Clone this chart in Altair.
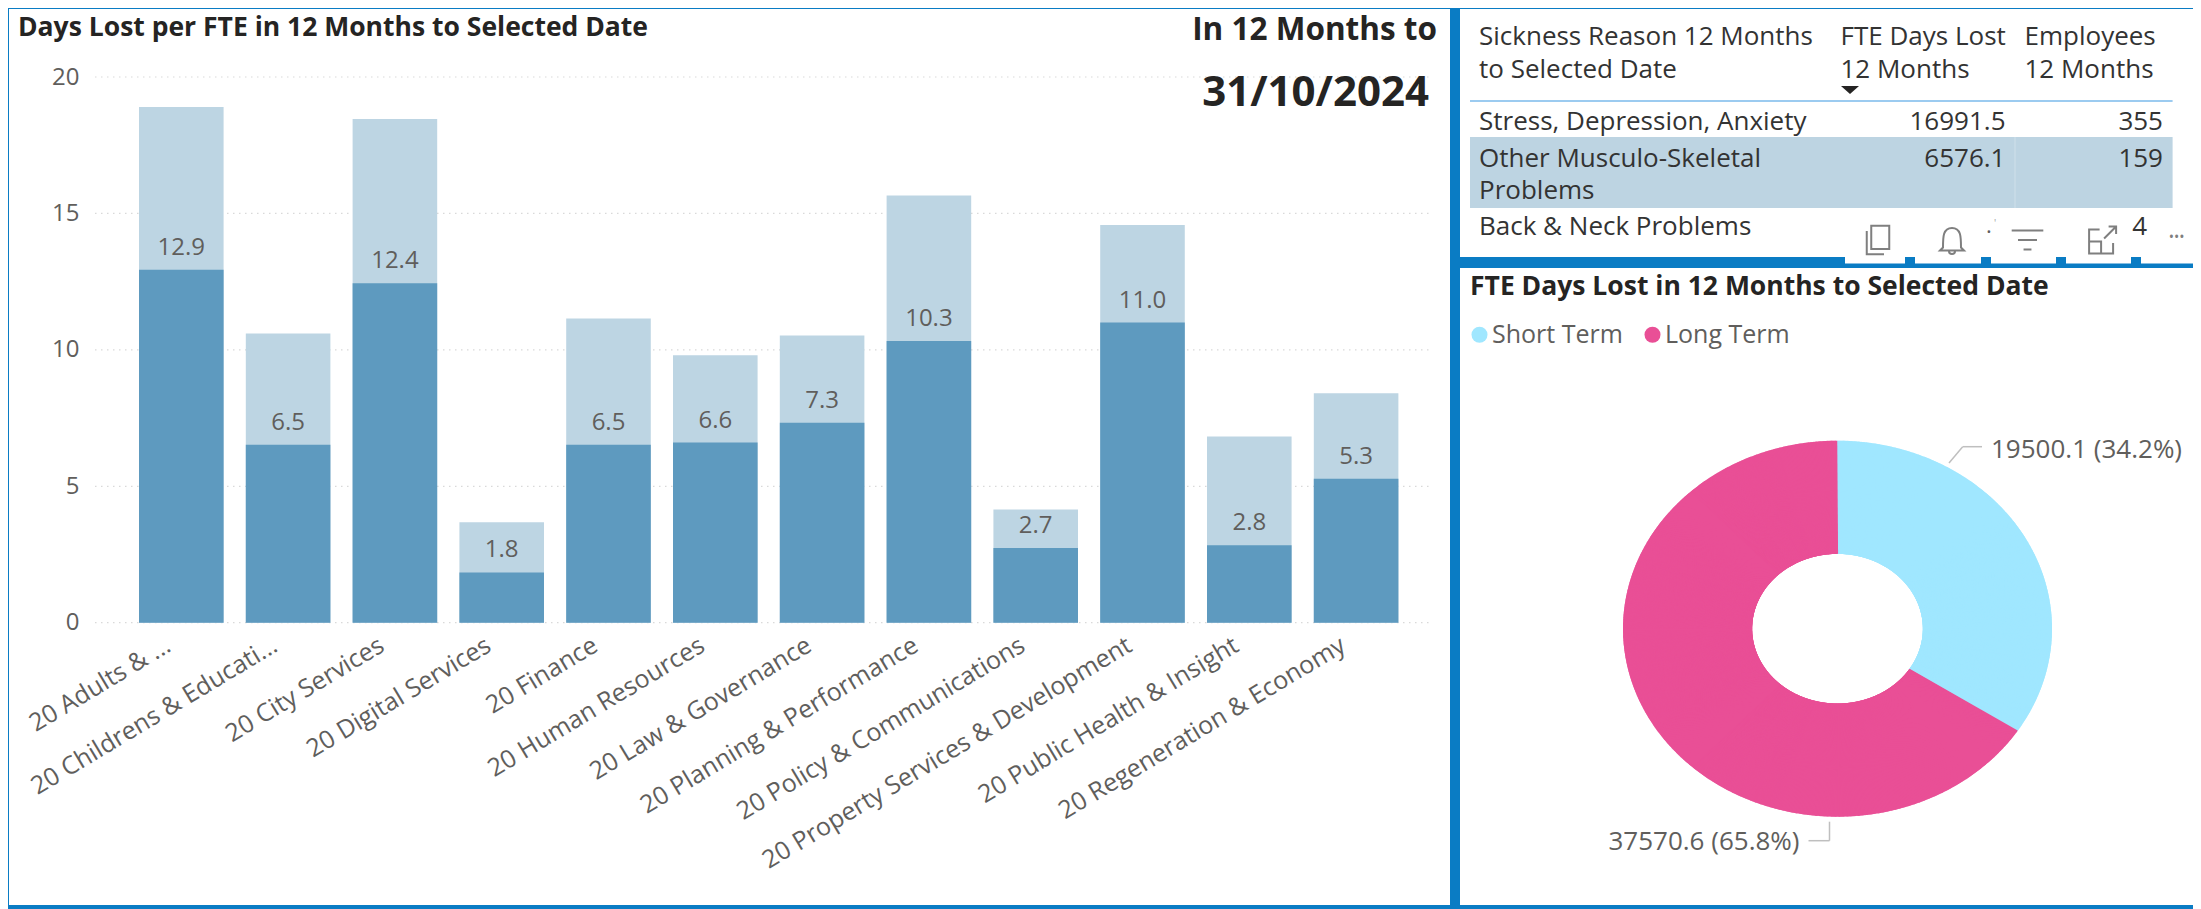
import math
import altair as alt

# ---- data ----
departments = ["20 Adults & ...", "20 Childrens & Educati...", "20 City Services", "20 Digital Services",
               "20 Finance", "20 Human Resources", "20 Law & Governance", "20 Planning & Performance",
               "20 Policy & Communications", "20 Property Services & Development",
               "20 Public Health & Insight", "20 Regeneration & Economy"]
total_days = [18.9, 10.6, 18.46, 3.68, 11.15, 9.8, 10.53, 15.66, 4.15, 14.58, 6.82, 8.41]
dark_days = [12.94, 6.52, 12.44, 1.84, 6.52, 6.6, 7.33, 10.32, 2.74, 11.0, 2.84, 5.28]
y_ticks = [0, 5, 10, 15, 20]

pie_names = ["Short Term", "Long Term"]
pie_values = [19500.1, 37570.6]
pie_colors = ["#A0E7FF", "#E94F96"]

table_header = [["Sickness Reason 12 Months", "to Selected Date"], ["FTE Days Lost", "12 Months"], ["Employees", "12 Months"]]
table_reasons = [["Stress, Depression, Anxiety"], ["Other Musculo-Skeletal", "Problems"], ["Back & Neck Problems"]]
table_days = ["16991.5", "6576.1", ""]
table_people = ["355", "159", "4"]

FONT = "Open Sans"
BLUE = "#0A7CC4"
W, H = 2185, 901
OFF = 8  # page margin
TABLE_SIZE = 26


def one(**row):
    return alt.Data(values=[row or {"k": 0}])


def px(v):
    return alt.value(v - OFF)


def txt(s, x, y, size, color="#333333", align="left", bold=False):
    return alt.Chart(one(t=s)).mark_text(
        font=FONT, fontSize=size, color=color, align=align, baseline="middle",
        fontWeight="bold" if bold else "normal"
    ).encode(x=px(x), y=px(y), text="t:N")


def box(x, x2, y, y2, color=BLUE):
    return alt.Chart(one()).mark_rect(color=color, strokeWidth=0).encode(x=px(x), x2=px(x2), y=px(y), y2=px(y2))


def seg(x, x2, y, y2, color="#BFBFBF", width=1.5):
    return alt.Chart(one()).mark_rule(color=color, strokeWidth=width).encode(x=px(x), x2=px(x2), y=px(y), y2=px(y2))


def icon(path, x, y, size, filled=False, color="#7F7F7F"):
    kw = dict(fill=color, stroke=color, strokeWidth=0) if filled else dict(stroke=color, strokeWidth=2, fillOpacity=0)
    return alt.Chart(one()).mark_point(shape=path, size=size, filled=filled, opacity=1, **kw).encode(x=px(x), y=px(y))


layers = []

# ---- frames ----
layers += [box(8, 9, 8, 909), box(8, 2201, 8, 9), box(8, 2201, 905, 909), box(1450, 1460, 8, 909),
           box(1460, 1845, 257, 268), box(1845, 2201, 263.5, 268)]
for nx in [1905, 1981, 2056, 2131]:
    layers.append(box(nx, nx + 10, 257, 264))

# ---- bars ----
bar_rows = [{"d": d, "total": t, "dark": k} for d, t, k in zip(departments, total_days, dark_days)]
x_scale = alt.Scale(domain=departments, range=[127.9 - OFF, 1409.5 - OFF], paddingInner=0.208, paddingOuter=0.104)
y_scale = alt.Scale(domain=[0, 20], range=[622.7 - OFF, 77 - OFF], nice=False)
x_none = alt.X("d:N", scale=x_scale, axis=None, sort=departments)

grid = alt.Chart(alt.Data(values=[{"v": v} for v in y_ticks])).mark_rule(
    color="#D9D9D9", strokeWidth=1.2, strokeDash=[1.5, 4.5]
).encode(y=alt.Y("v:Q", scale=y_scale, axis=None), x=px(95), x2=px(1433))

light = alt.Chart(alt.Data(values=bar_rows)).mark_bar(color="#BDD5E3").encode(
    x=alt.X("d:N", scale=x_scale, sort=departments, title=None, axis=alt.Axis(
        orient="bottom", offset=-(H - (622.7 - OFF) - 6), labelAngle=329, labelAlign="right", labelBaseline="middle",
        labelFont=FONT, labelFontSize=25, labelColor="#605E5C", labelLimit=700, labelOverlap=False,
        ticks=False, domain=False, labelPadding=14, labelOffset=-13, grid=False)),
    y=alt.Y("total:Q", scale=y_scale, title=None, axis=alt.Axis(
        orient="left", offset=-(79 - OFF), values=y_ticks, labelFont=FONT, labelFontSize=24, labelColor="#605E5C",
        ticks=False, domain=False, grid=False, labelPadding=0)),
)
dark = alt.Chart(alt.Data(values=bar_rows)).mark_bar(color="#5E9ABF").encode(
    x=x_none, y=alt.Y("dark:Q", scale=y_scale, axis=None))
labels = alt.Chart(alt.Data(values=bar_rows)).mark_text(
    font=FONT, fontSize=24, color="#605E5C", baseline="middle", dy=-22
).encode(x=x_none, y=alt.Y("dark:Q", scale=y_scale, axis=None), text=alt.Text("dark:Q", format=".1f"))
layers += [grid, light, dark, labels]

# ---- left titles ----
layers += [
    txt("Days Lost per FTE in 12 Months to Selected Date", 18, 28, 26.5, "#252423", bold=True),
    txt("In 12 Months to", 1437, 31, 31.5, "#252423", "right", True),
    txt("31/10/2024", 1429, 93, 42, "#252423", "right", True),
]

# ---- table ----
layers.append(box(1470, 2172.6, 137, 208, "#BDD4E2"))
layers.append(seg(2015, 2015, 137, 208, "#CFE0EA", 1))
layers.append(seg(1470, 2172.6, 101, 101, "#9CCBF0", 2))
for lines, hx in zip(table_header, [1479, 1840.5, 2024.5]):
    for line, hy in zip(lines, [37, 69.5]):
        layers.append(txt(line, hx, hy, TABLE_SIZE))
layers.append(icon("M-1 -0.45 L1 -0.45 L0 0.45 Z", 1850, 90, 324, True, "#252423"))
row_y = [121.7, 158.5, 227]
for lines, ry in zip(table_reasons, row_y):
    for i, line in enumerate(lines):
        layers.append(txt(line, 1479, ry + i * 32.3, TABLE_SIZE))
for s, ry in zip(table_days, row_y):
    if s:
        layers.append(txt(s, 2005.5, ry, TABLE_SIZE, align="right"))
for s, ry, rx in zip(table_people, row_y, [2163, 2163, 2147]):
    layers.append(txt(s, rx, ry, TABLE_SIZE, align="right"))
layers += [txt(".", 1986, 226, 22, "#605E5C"), txt("'", 1994, 224, 10, "#A0A0A0")]

# ---- toolbar icons over the table ----
layers += [
    icon("M-0.45 -0.95 H0.75 V0.6 H-0.45 Z M-0.75 -0.6 V0.95 H0.4", 1878, 240, 900),
    icon("M-0.6 0.5 C-0.6 -0.2 -0.6 -0.8 0 -0.8 C0.6 -0.8 0.6 -0.2 0.6 0.5 L0.8 0.7 H-0.8 Z M-0.2 0.75 C-0.2 1 0.2 1 0.2 0.75", 1952, 240, 900),
    icon("M-1 -0.6 H1 M-0.6 0 H0.6 M-0.25 0.6 H0.25", 2027.5, 240, 1000),
    icon("M-0.2 -0.7 H-0.9 V0.9 H0.7 V0.2 M-0.9 0.1 H-0.1 V0.9 M0.1 -0.1 L0.9 -0.9 M0.4 -0.9 H0.9 V-0.4", 2102.6, 240, 900),
    txt("•••", 2176.7, 238, 14, "#7F7F7F", "center"),
]

# ---- donut: an ellipse, because the reference is stretched ----
pie_total = sum(pie_values)
share = pie_values[0] / pie_total
INNER = 0.398
px_scale = alt.Scale(domain=[-1, 1], range=[1623 - OFF, 2052 - OFF], nice=False, zero=False)
py_scale = alt.Scale(domain=[-1, 1], range=[816.7 - OFF, 440.7 - OFF], nice=False, zero=False)
color_scale = alt.Scale(domain=pie_names, range=pie_colors)

spokes = (
    alt.Chart(alt.sequence(0, 1, 0.001, as_="t"))
    .transform_calculate(
        sx="sin(2*PI*datum.t)", sy="cos(2*PI*datum.t)",
        ix=f"{INNER}*sin(2*PI*datum.t)", iy=f"{INNER}*cos(2*PI*datum.t)",
        name=f"datum.t < {share} ? '{pie_names[0]}' : '{pie_names[1]}'",
    )
    .mark_rule(strokeWidth=2.2)
    .encode(
        x=alt.X("sx:Q", scale=px_scale, axis=None), y=alt.Y("sy:Q", scale=py_scale, axis=None),
        x2="ix:Q", y2="iy:Q",
        color=alt.Color("name:N", scale=color_scale, legend=None),
    )
)
legend_source = alt.Chart(alt.Data(values=[{"name": n} for n in pie_names])).mark_circle(size=0, opacity=1).encode(
    x=alt.value(0), y=alt.value(0),
    color=alt.Color("name:N", scale=color_scale, sort=pie_names, legend=alt.Legend(
        title=None, orient="none", legendX=1467 - OFF, legendY=322 - OFF, direction="horizontal",
        symbolType="circle", symbolSize=256, labelFont=FONT, labelFontSize=25, labelColor="#605E5C",
        columnPadding=17, labelOffset=0, symbolStrokeWidth=0)),
)
layers += [spokes, legend_source]
layers += [
    seg(1949, 1962.7, 463, 446.7), seg(1962.7, 1982, 446.7, 446.7),
    seg(1808.5, 1829.5, 840.7, 840.7), seg(1829.5, 1829.5, 840.7, 821.7),
    txt(f"{pie_values[0]} ({pie_values[0] / pie_total:.1%})", 1991, 450, 26, "#605E5C"),
    txt(f"{pie_values[1]} ({pie_values[1] / pie_total:.1%})", 1799.5, 841.7, 26, "#605E5C", "right"),
    txt("FTE Days Lost in 12 Months to Selected Date", 1470, 286.5, 26.5, "#252423", bold=True),
]

chart = (
    alt.layer(*layers)
    .resolve_scale(x="independent", y="independent", color="independent")
    .properties(width=W, height=H, padding=0, background="white", autosize=alt.AutoSizeParams(type="none"))
    .configure_view(stroke=None)
)
chart.save("out.html", embed_options={"renderer": "svg", "actions": False})
